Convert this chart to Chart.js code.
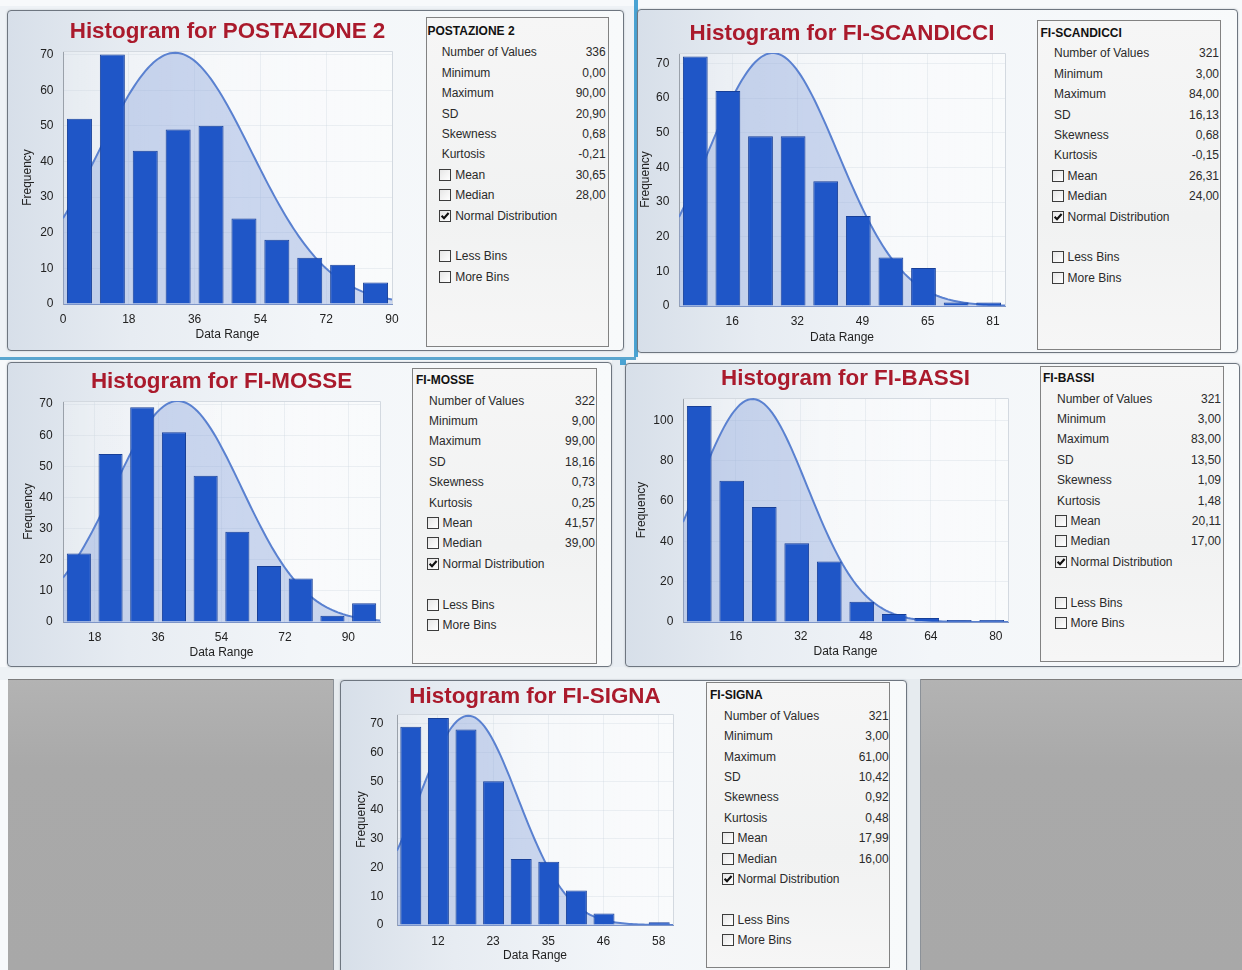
<!DOCTYPE html>
<html>
<head>
<meta charset="utf-8">
<script src="https://cdn.jsdelivr.net/npm/chart.js@4.4.1/dist/chart.umd.min.js"></script>
<style>
  html, body { margin: 0; padding: 0; }
  body {
    width: 1242px; height: 970px; position: relative; overflow: hidden;
    background: #f7f9fb;
    font-family: "Liberation Sans", Arial, sans-serif;
  }
  .blk { position: absolute; box-sizing: border-box; }
  .panel {
    position: absolute; box-sizing: border-box;
    border: 1px solid #6e7680; border-radius: 4px;
    background: linear-gradient(90deg, #d7dfe9 0%, #e7ecf2 20%, #f3f6f9 50%, #f8fafb 100%);
    box-shadow: 0 0 2px rgba(80, 90, 100, 0.35);
  }
  .stats {
    position: absolute; box-sizing: border-box;
    border: 1px solid #828282;
    background: linear-gradient(180deg, #f6f6f6 0%, #f1f2f2 60%, #f6f6f6 100%);
  }
  .txt {
    position: absolute; white-space: nowrap;
    font-size: 12px; line-height: 14px; height: 14px; color: #2a2a2a;
  }
  .bold { font-weight: bold; color: #111; }
  .val { text-align: right; width: 80px; }
  .cb {
    position: absolute; box-sizing: border-box; width: 12px; height: 12px;
    border: 1px solid #3c3c3c; background: linear-gradient(135deg, #e6e6e6, #ffffff);
  }
  canvas { position: absolute; }
</style>
</head>
<body>

<script>
// ---- data ----
const seriesNames = ['POSTAZIONE 2', 'FI-SCANDICCI', 'FI-MOSSE', 'FI-BASSI', 'FI-SIGNA'];

// frequency of each of the 10 bins (equal width between minimum and maximum)
const countsPostazione2 = [52, 70, 43, 49, 50, 24, 18, 13, 11, 6];
const countsScandicci   = [72, 62, 49, 49, 36, 26, 14, 11, 1, 1];
const countsMosse       = [22, 54, 69, 61, 47, 29, 18, 14, 2, 6];
const countsBassi       = [107, 70, 57, 39, 30, 10, 4, 2, 1, 1];
const countsSigna       = [69, 72, 68, 50, 23, 22, 12, 4, 0, 1];
const binCounts = [countsPostazione2, countsScandicci, countsMosse, countsBassi, countsSigna];

// descriptive statistics
const numberOfValues = [336, 321, 322, 321, 321];
const minimums  = [0, 3, 9, 3, 3];
const maximums  = [90, 84, 99, 83, 61];
const sds       = [20.90, 16.13, 18.16, 13.50, 10.42];
const skewness  = [0.68, 0.68, 0.73, 1.09, 0.92];
const kurtosis  = [-0.21, -0.15, 0.25, 1.48, 0.48];
const means     = [30.65, 26.31, 41.57, 20.11, 17.99];
const medians   = [28.00, 24.00, 39.00, 17.00, 16.00];

// height of the normal-distribution overlay at its mean
const curvePeaks = [70.5, 73, 71, 110.5, 72.8];

// axes
const yAxisMax  = [71, 73, 71, 111, 73.4];
const yAxisStep = [10, 10, 10, 20, 10];
const xTickLabels = [
  ['0', '18', '36', '54', '72', '90'],
  ['16', '32', '49', '65', '81'],
  ['18', '36', '54', '72', '90'],
  ['16', '32', '48', '64', '80'],
  ['12', '23', '35', '46', '58']
];
const statLabels = ['Number of Values', 'Minimum', 'Maximum', 'SD', 'Skewness', 'Kurtosis'];
const checkLabels = ['Mean', 'Median', 'Normal Distribution'];
const binButtons = ['Less Bins', 'More Bins'];

// ---- layout ----
const FONT = '"Liberation Sans", Arial, sans-serif';

function block(l, t, w, h, css) {
  const d = document.createElement('div');
  d.className = 'blk';
  d.style.cssText = `left:${l}px;top:${t}px;width:${w}px;height:${h}px;` + (css || '');
  document.body.appendChild(d);
  return d;
}
function panel(l, t, w, h) {
  const d = document.createElement('div');
  d.className = 'panel';
  d.style.cssText = `left:${l}px;top:${t}px;width:${w}px;height:${h}px;`;
  document.body.appendChild(d);
}

// window frames
block(0, 6, 638, 354, 'background:#eef2f6;');
block(634, 0, 4, 357, 'background:#4aa3d3;');
block(0, 357, 636, 3, 'background:#5aa6cf;');
block(612, 360, 14, 310, 'background:#e9eef3;');
block(620, 359, 6, 6, 'background:#4aa3d3;');
block(0, 667, 1242, 13, 'background:#eef2f5;');
block(8, 679, 1234, 291, 'background:linear-gradient(180deg,#b3b3b3 0%,#a9a9a9 30%,#a8a8a8 100%);border-top:1px solid #7d7d7d;');
block(333, 679, 588, 300, 'background:#e6ebef;border-left:1px solid #8b9198;border-right:1px solid #8b9198;');

panel(7, 10, 617, 341);
panel(637, 9, 601, 344);
panel(7, 362, 605, 305);
panel(625, 363, 615, 304);
panel(340, 680, 567, 300);

// statistics boxes
const statBoxes = [
  { l: 426,  t: 17,  r: 609,  b: 347, titleX: 427.5, titleY: 30.7, row0: 52.3,  labelX: 441.7, valR: 605.7 },
  { l: 1037, t: 20,  r: 1221, b: 350, titleX: 1040.5, titleY: 32.7, row0: 53.3, labelX: 1054,  valR: 1219 },
  { l: 412,  t: 368, r: 597,  b: 664, titleX: 416,   titleY: 380,  row0: 400.5, labelX: 429,   valR: 595 },
  { l: 1040, t: 366, r: 1224, b: 662, titleX: 1043,  titleY: 378,  row0: 398.5, labelX: 1057,  valR: 1221 },
  { l: 706,  t: 682, r: 890,  b: 968, titleX: 710,   titleY: 695,  row0: 715.7, labelX: 724,   valR: 888.7 }
];
const ROW = 20.4;

function text(str, x, y, cls, alignRight) {
  const d = document.createElement('div');
  d.className = 'txt ' + (cls || '');
  d.textContent = str;
  if (alignRight) {
    d.classList.add('val');
    d.style.left = (x - 80) + 'px';
  } else {
    d.style.left = x + 'px';
  }
  d.style.top = (y - 7) + 'px';
  document.body.appendChild(d);
}
function checkbox(x, y, checked) {
  const d = document.createElement('div');
  d.className = 'cb';
  d.style.left = x + 'px';
  d.style.top = (y - 6) + 'px';
  if (checked) {
    d.innerHTML = '<svg width="10" height="10" viewBox="0 0 10 10" style="position:absolute;left:0;top:0">' +
      '<path d="M1.6 4.8 L4 7.3 L8.6 2" fill="none" stroke="#111" stroke-width="2.1"/></svg>';
  }
  document.body.appendChild(d);
}
const fmt = v => v.toFixed(2).replace('.', ',');

statBoxes.forEach((s, i) => {
  const box = document.createElement('div');
  box.className = 'stats';
  box.style.cssText = `left:${s.l}px;top:${s.t}px;width:${s.r - s.l}px;height:${s.b - s.t}px;`;
  document.body.appendChild(box);

  text(seriesNames[i], s.titleX, s.titleY, 'bold');
  const vals = [String(numberOfValues[i]), fmt(minimums[i]), fmt(maximums[i]), fmt(sds[i]),
                fmt(skewness[i]), fmt(kurtosis[i])];
  statLabels.forEach((lab, k) => {
    const y = s.row0 + k * ROW;
    text(lab, s.labelX, y);
    text(vals[k], s.valR, y, '', true);
  });
  const checkVals = [fmt(means[i]), fmt(medians[i]), null];
  checkLabels.forEach((lab, k) => {
    const y = s.row0 + (6 + k) * ROW;
    checkbox(s.labelX - 2.5, y, k === 2);
    text(lab, s.labelX + 13.5, y);
    if (checkVals[k]) text(checkVals[k], s.valR, y, '', true);
  });
  binButtons.forEach((lab, k) => {
    const y = s.row0 + (10 + k) * ROW;
    checkbox(s.labelX - 2.5, y, false);
    text(lab, s.labelX + 13.5, y);
  });
});

// chart geometry: canvas box, axis band sizes and paddings
const chartGeo = [
  { box: [12, 13, 398, 332],  yw: 51, ytt: 8.8,  ytp: 9.5,  xh: 41, xtp: 8.5, xtb: 2.8, rp: 18, tpt: 5.56, tpb: 5.56 },
  { box: [632, 15, 390, 333], yw: 47, ytt: 6.5,  ytp: 9.7,  xh: 42, xtp: 8.5, xtb: 3.5, rp: 17, tpt: 5.36, tpb: 5.76 },
  { box: [12, 364, 386, 300], yw: 51, ytt: 9.1,  ytp: 10.3, xh: 42, xtp: 8.8, xtb: 4.3, rp: 18, tpt: 4.56, tpb: 5.56 },
  { box: [628, 362, 397, 302], yw: 55, ytt: 6.5, ytp: 9.7,  xh: 42, xtp: 7.5, xtb: 5.1, rp: 17, tpt: 3.26, tpb: 5.86 },
  { box: [343, 682, 347, 286], yw: 54, ytt: 11.5, ytp: 13.5, xh: 43, xtp: 9.5, xtb: 5.0, rp: 17, tpt: 1.26, tpb: 3.86 }
];

// plot-area background and frame
const plotFrame = {
  id: 'plotFrame',
  beforeDatasetsDraw(chart) {
    const { ctx, chartArea: a } = chart;
    ctx.save();
    const g = ctx.createLinearGradient(a.left, 0, a.right, 0);
    g.addColorStop(0, 'rgba(255,255,255,0.25)');
    g.addColorStop(0.5, 'rgba(255,255,255,0.55)');
    g.addColorStop(1, 'rgba(255,255,255,0.45)');
    ctx.globalCompositeOperation = 'destination-over';
    ctx.fillStyle = g;
    ctx.fillRect(a.left, a.top, a.right - a.left, a.bottom - a.top);
    ctx.globalCompositeOperation = 'source-over';
    ctx.strokeStyle = '#d3d9e0';
    ctx.lineWidth = 1;
    ctx.beginPath();
    ctx.moveTo(a.left, a.top + 0.5);
    ctx.lineTo(a.right + 0.5, a.top + 0.5);
    ctx.lineTo(a.right + 0.5, a.bottom);
    ctx.stroke();
    ctx.restore();
  }
};

function buildChart(i) {
  const g = chartGeo[i];
  const [cl, ct, cw, ch] = g.box;
  const cv = document.createElement('canvas');
  cv.width = cw; cv.height = ch;
  cv.style.left = cl + 'px'; cv.style.top = ct + 'px';
  cv.style.width = cw + 'px'; cv.style.height = ch + 'px';
  document.body.appendChild(cv);

  const min = minimums[i], max = maximums[i];
  const counts = binCounts[i];
  const bw = (max - min) / counts.length;
  const bars = counts.map((c, k) => ({ x: min + (k + 0.5) * bw, y: c }));

  // axis ticks every two bins
  const step = 2 * bw;
  const tickVals = [];
  for (let k = Math.ceil(min / step - 1e-9); k * step <= max + 1e-9; k++) tickVals.push(k * step);

  // normal distribution with the stated mean and SD
  const curve = [];
  const n = 120;
  for (let k = 0; k <= n; k++) {
    const x = min + (max - min) * k / n;
    const z = (x - means[i]) / sds[i];
    curve.push({ x, y: curvePeaks[i] * Math.exp(-0.5 * z * z) });
  }

  const tickFont = { family: FONT, size: 12 };
  new Chart(cv, {
    type: 'bar',
    data: {
      datasets: [
        {
          type: 'bar', data: bars, order: 1,
          backgroundColor: '#1f56c7', borderColor: '#173f98', borderWidth: 1,
          barPercentage: 0.76, categoryPercentage: 1, grouped: false
        },
        {
          type: 'line', data: curve, order: 2,
          borderColor: '#5a81d0', borderWidth: 2, pointRadius: 0, tension: 0,
          fill: 'origin', backgroundColor: 'rgba(133,159,217,0.40)'
        }
      ]
    },
    options: {
      responsive: false, animation: false, devicePixelRatio: 1,
      layout: { padding: { left: 0, top: 0, right: g.rp, bottom: 0 } },
      plugins: {
        legend: { display: false },
        tooltip: { enabled: false },
        title: {
          display: true, fullSize: false,
          text: 'Histogram for ' + seriesNames[i],
          color: '#aa1a2c',
          font: { family: FONT, size: 22.4, weight: 'bold' },
          padding: { top: g.tpt, bottom: g.tpb }
        }
      },
      scales: {
        x: {
          type: 'linear', min, max, offset: false,
          afterBuildTicks: s => { s.ticks = tickVals.map(v => ({ value: v })); },
          afterFit: s => { s.height = g.xh; },
          grid: { drawTicks: false, offset: false, color: 'rgba(200,208,220,0.3)' },
          border: { color: '#7d95c8', width: 1 },
          ticks: {
            padding: g.xtp, autoSkip: false, maxRotation: 0, color: '#222', font: tickFont,
            callback: (v, idx) => xTickLabels[i][idx]
          },
          title: { display: true, text: 'Data Range', color: '#222', font: tickFont,
                   padding: { top: 0, bottom: g.xtb } }
        },
        y: {
          min: 0, max: yAxisMax[i],
          afterFit: s => { s.width = g.yw; },
          grid: { drawTicks: false, color: 'rgba(200,208,220,0.3)' },
          border: { color: '#9aa1aa', width: 1 },
          ticks: { stepSize: yAxisStep[i], includeBounds: false, padding: g.ytp, color: '#222', font: tickFont },
          title: { display: true, text: 'Frequency', color: '#222', font: tickFont,
                   padding: { top: g.ytt, bottom: 0 } }
        }
      }
    },
    plugins: [plotFrame]
  });
}

for (let i = 0; i < seriesNames.length; i++) buildChart(i);
</script>
</body>
</html>
